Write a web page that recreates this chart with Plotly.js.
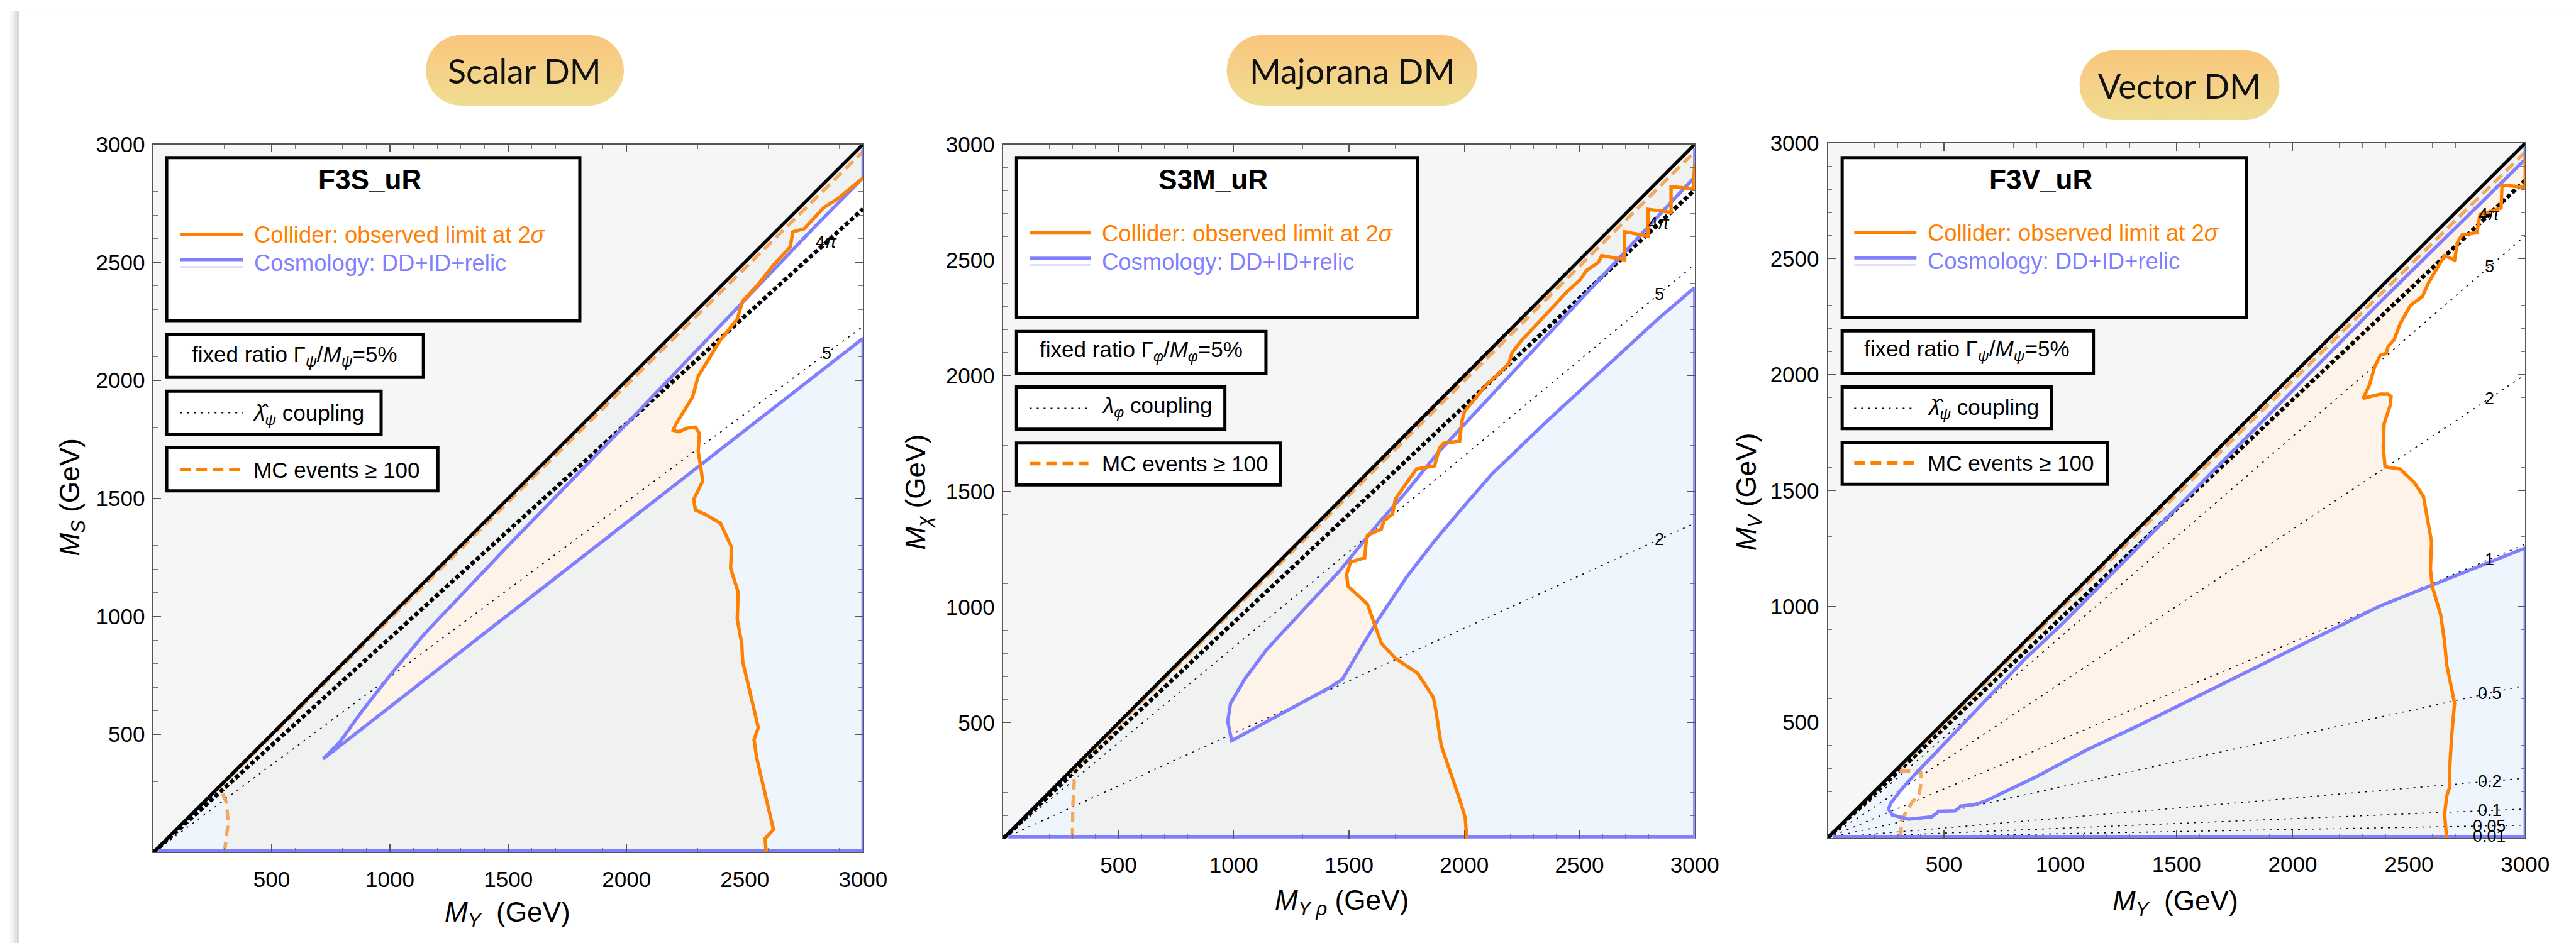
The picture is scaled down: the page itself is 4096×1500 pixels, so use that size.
<!DOCTYPE html>
<html>
<head>
<meta charset="utf-8">
<script src="https://cdn.plot.ly/plotly-3.0.1.min.js"></script>
<style>
  html, body { margin: 0; padding: 0; background: #ffffff; }
  #chart { width: 4096px; height: 1500px; }
</style>
</head>
<body>
<div id="chart"></div>
<script>
// ---------------- shared axis ticks (GeV) ----------------
const tickValues = [500, 1000, 1500, 2000, 2500, 3000];
const tickLabels = ['500', '1000', '1500', '2000', '2500', '3000'];
const massRange = [0, 3000];
const diagonal = [0, 3000];            // M_DM = M_mediator kinematic edge

// ---------------- Scalar DM : F3S_uR ----------------
const scalarColliderX = [2590, 2586, 2621, 2597, 2574, 2550, 2539, 2557, 2515, 2491, 2487, 2468, 2472, 2440, 2444, 2421, 2397, 2331, 2291, 2284, 2322, 2315, 2303, 2308, 2291, 2256, 2220, 2197, 2209, 2279, 2303, 2397, 2468, 2491, 2562, 2621, 2692, 2703, 2751, 2833, 2892, 3000];
const scalarColliderY = [0, 59, 97, 199, 300, 402, 478, 529, 708, 809, 886, 987, 1102, 1204, 1293, 1344, 1395, 1433, 1451, 1496, 1573, 1624, 1700, 1776, 1802, 1797, 1782, 1789, 1815, 1929, 2018, 2171, 2260, 2336, 2413, 2489, 2565, 2629, 2642, 2731, 2769, 2858];
const scalarMcX = [300, 316, 309, 292, 275, 3000];
const scalarMcY = [0, 125, 210, 252, 272, 2970];
const scalarCosmoUpperX = [717, 786, 883, 1000, 1146, 1500, 2000, 2500, 2800, 3000];
const scalarCosmoUpperY = [396, 465, 600, 750, 926, 1300, 1816, 2340, 2655, 2858];
const scalarCosmoLowerX = [717, 3000];
const scalarCosmoLowerY = [396, 2178];
const scalarFourPiEnd = 2726;
const scalarCouplingLabels = ['5'];
const scalarCouplingEnds = [2229];

// ---------------- Majorana DM : S3M_uR ----------------
const majoranaColliderX = [2011, 2004, 1980, 1944, 1900, 1876, 1866, 1798, 1701, 1640, 1604, 1580, 1495, 1490, 1507, 1568, 1575, 1580, 1640, 1653, 1689, 1701, 1737, 1793, 1871, 1893, 1910, 1980, 1989, 2002, 2050, 2094, 2146, 2194, 2207, 2251, 2321, 2364, 2391, 2443, 2504, 2530, 2583, 2596, 2696, 2696, 2797, 2797, 2897, 2897, 2993, 3000];
const majoranaColliderY = [0, 91, 169, 273, 403, 558, 610, 714, 779, 844, 948, 1013, 1091, 1143, 1195, 1213, 1286, 1311, 1337, 1376, 1402, 1467, 1519, 1597, 1610, 1689, 1708, 1717, 1801, 1848, 1904, 1959, 2006, 2053, 2099, 2155, 2229, 2276, 2304, 2360, 2416, 2454, 2491, 2519, 2501, 2622, 2603, 2719, 2706, 2817, 2808, 2919];
const majoranaMcX = [300, 302, 308, 300, 292, 3000];
const majoranaMcY = [0, 143, 247, 275, 288, 2968];
const majoranaCosmoUpperX = [991, 974, 986, 1047, 1144, 1289, 1459, 1628, 1750, 1884, 2113, 2355, 2598, 2840, 3000];
const majoranaCosmoUpperY = [423, 506, 584, 688, 818, 974, 1156, 1363, 1500, 1665, 1910, 2169, 2429, 2688, 2859];
const majoranaCosmoLowerX = [991, 1410, 1471, 1556, 1628, 1750, 1871, 2000, 2120, 2355, 2598, 2840, 3000];
const majoranaCosmoLowerY = [423, 649, 688, 831, 948, 1130, 1286, 1438, 1575, 1800, 2025, 2245, 2381];
const majoranaFourPiEnd = 2803;
const majoranaCouplingLabels = ['5', '2'];
const majoranaCouplingEnds = [2481, 1363];

// ---------------- Vector DM : F3V_uR ----------------
const vectorColliderX = [2662, 2653, 2662, 2675, 2675, 2683, 2696, 2683, 2662, 2653, 2636, 2601, 2592, 2597, 2579, 2562, 2523, 2462, 2397, 2389, 2393, 2419, 2423, 2410, 2376, 2303, 2330, 2352, 2376, 2402, 2410, 2436, 2462, 2506, 2558, 2584, 2601, 2636, 2653, 2696, 2709, 2727, 2792, 2805, 2896, 2900, 3000, 3000];
const vectorColliderY = [0, 102, 180, 219, 298, 435, 582, 651, 749, 847, 965, 1083, 1161, 1279, 1377, 1475, 1534, 1593, 1602, 1691, 1789, 1867, 1906, 1916, 1916, 1898, 1956, 2033, 2083, 2092, 2122, 2151, 2220, 2299, 2338, 2397, 2426, 2485, 2514, 2495, 2573, 2603, 2613, 2691, 2720, 2819, 2809, 2936];
const vectorMcX = [314, 317, 330, 366, 392, 402, 400, 382, 348, 317, 300, 3000];
const vectorMcY = [0, 73, 99, 159, 185, 237, 281, 289, 289, 289, 296, 2962];
const vectorCosmoUpperX = [262, 270, 304, 348, 400, 504, 678, 850, 1016, 2376, 3000];
const vectorCosmoUpperY = [125, 148, 193, 245, 297, 409, 592, 774, 931, 2314, 2930];
const vectorCosmoLowerX = [262, 278, 348, 447, 478, 548, 574, 626, 678, 894, 1110, 1336, 2376, 3000];
const vectorCosmoLowerY = [125, 99, 81, 91, 115, 117, 138, 143, 159, 263, 378, 485, 1002, 1252];
const vectorFourPiEnd = 2839;
const vectorCouplingLabels = ['5', '2', '1', '0.5', '0.2', '0.1', '0.05', '0.01'];
const vectorCouplingEnds = [2600, 2000, 1268, 659, 258, 125, 55, 8];

// ---------------- page geometry (reference pixels, drawn at 0.96) ----------------
const W = 4265, H = 1562, S = 0.96;
const FONT = 'Liberation Sans, Arial, Helvetica, sans-serif';
const ORANGE = '#FF8000', BLUE = '#8080FF', MC_ORANGE = '#F5A85C';
const REGION_COLORS = ['#FFFFFF', '#FDF3E9', '#EEF5FD', '#F0F1F1', '#F6F6F6'];
const LW = 5.6 * S;   // contour line width

const panels = [
  {
    box: {x0: 254, x1: 1429, y0: 239, y1: 1412},
    colX: scalarColliderX, colY: scalarColliderY, mcX: scalarMcX, mcY: scalarMcY,
    upX: scalarCosmoUpperX, upY: scalarCosmoUpperY, loX: scalarCosmoLowerX, loY: scalarCosmoLowerY,
    fourPi: scalarFourPiEnd, cLabels: scalarCouplingLabels, cEnds: scalarCouplingEnds,
    pill: {x0: 705, y0: 58, x1: 1033, y1: 175, tx: 868, ty: 117, text: 'Scalar DM'},
    xTitle: {x: 840, y: 1514, text: '<i>M</i><sub><i>Y</i></sub>  (GeV)'},
    yTitle: {x: 119, y: 824, text: '<i>M</i><sub><i>S</i></sub> (GeV)'},
    legend: {
      box1: [276, 261, 960, 531], title: 'F3S_uR', titleX: 612, titleY: 297,
      sx: [298, 402], orangeY: 388, blueY: [430, 442], textX: 419, colY: 389, cosY: 436,
      box2: [276, 554, 701, 625], ratio: 'fixed ratio Γ<sub><i>ψ</i></sub>/<i>M</i><sub><i>ψ</i></sub>=5%', ratioX: 488, ratioY: 589,
      box3: [276, 648, 631, 719], dotY: 684, coup: '<i>λ̂</i><sub><i>ψ</i></sub> coupling', coupX: 416, coupY: 686,
      box4: [276, 742, 725, 813], dashY: 778, mcX: 418, mcY: 778
    }
  },
  {
    box: {x0: 1661, x1: 2806, y0: 239, y1: 1389},
    colX: majoranaColliderX, colY: majoranaColliderY, mcX: majoranaMcX, mcY: majoranaMcY,
    upX: majoranaCosmoUpperX, upY: majoranaCosmoUpperY, loX: majoranaCosmoLowerX, loY: majoranaCosmoLowerY,
    fourPi: majoranaFourPiEnd, cLabels: majoranaCouplingLabels, cEnds: majoranaCouplingEnds,
    pill: {x0: 2031, y0: 58, x1: 2446, y1: 175, tx: 2239, ty: 117, text: 'Majorana DM'},
    xTitle: {x: 2222, y: 1494, text: '<i>M</i><sub><i>Y ρ</i></sub> (GeV)'},
    yTitle: {x: 1519, y: 815, text: '<i>M</i><sub><i>χ</i></sub> (GeV)'},
    legend: {
      box1: [1683, 261, 2347, 526], title: 'S3M_uR', titleX: 2009, titleY: 297,
      sx: [1705, 1806], orangeY: 386, blueY: [428, 439], textX: 1822, colY: 387, cosY: 434,
      box2: [1683, 549, 2096, 619], ratio: 'fixed ratio Γ<sub><i>φ</i></sub>/<i>M</i><sub><i>φ</i></sub>=5%', ratioX: 1889, ratioY: 581,
      box3: [1683, 641, 2028, 711], dotY: 676, coup: '<i>λ</i><sub><i>φ</i></sub> coupling', coupX: 1822, coupY: 674,
      box4: [1683, 734, 2120, 803], dashY: 768, mcX: 1822, mcY: 768
    }
  },
  {
    box: {x0: 3026, x1: 4181, y0: 237, y1: 1388},
    colX: vectorColliderX, colY: vectorColliderY, mcX: vectorMcX, mcY: vectorMcY,
    upX: vectorCosmoUpperX, upY: vectorCosmoUpperY, loX: vectorCosmoLowerX, loY: vectorCosmoLowerY,
    fourPi: vectorFourPiEnd, cLabels: vectorCouplingLabels, cEnds: vectorCouplingEnds,
    pill: {x0: 3443, y0: 83, x1: 3774, y1: 199, tx: 3608, ty: 142, text: 'Vector DM'},
    xTitle: {x: 3602, y: 1495, text: '<i>M</i><sub><i>Y</i></sub>  (GeV)'},
    yTitle: {x: 2894, y: 815, text: '<i>M</i><sub><i>V</i></sub> (GeV)'},
    legend: {
      box1: [3050, 261, 3719, 526], title: 'F3V_uR', titleX: 3379, titleY: 297,
      sx: [3070, 3173], orangeY: 385, blueY: [427, 439], textX: 3189, colY: 386, cosY: 433,
      box2: [3050, 548, 3466, 618], ratio: 'fixed ratio Γ<sub><i>ψ</i></sub>/<i>M</i><sub><i>ψ</i></sub>=5%', ratioX: 3257, ratioY: 580,
      box3: [3050, 641, 3397, 710], dotY: 676, coup: '<i>λ̂</i><sub><i>ψ</i></sub> coupling', coupX: 3189, coupY: 677,
      box4: [3050, 733, 3489, 802], dashY: 767, mcX: 3189, mcY: 767
    }
  }
];

// ---------------- region shading from the contour boundaries ----------------
function crossings(px, py, y) {
  const xs = [];
  for (let i = 0, j = px.length - 1; i < px.length; j = i++) {
    const yi = py[i], yj = py[j];
    if ((yi > y) !== (yj > y)) xs.push(px[i] + (y - yi) * (px[j] - px[i]) / (yj - yi));
  }
  return xs.sort((a, b) => a - b);
}

function regionGrid(p) {
  const top = massRange[1];
  // collider-excluded region: MC-events edge, kinematic diagonal, observed limit
  const cx = p.mcX.slice(0, -1).concat([top], p.colX.slice().reverse());
  const cy = p.mcY.slice(0, -1).concat([top], p.colY.slice().reverse());
  // cosmology-excluded region: below the diagonal, outside the allowed wedge
  const kx = [0, top].concat(p.upX.slice().reverse(), p.loX.slice(1), [top]);
  const ky = [0, top].concat(p.upY.slice().reverse(), p.loY.slice(1), [0]);
  const N = 750, step = top / N;
  const centers = [];
  for (let i = 0; i < N; i++) centers.push((i + 0.5) * step);
  const z = [];
  for (let j = 0; j < N; j++) {
    const y = centers[j];
    const cc = crossings(cx, cy, y), kc = crossings(kx, ky, y);
    let ci = 0, ki = 0, cin = false, kin = false;
    const row = new Array(N);
    for (let i = 0; i < N; i++) {
      const x = centers[i];
      while (ci < cc.length && cc[ci] < x) { cin = !cin; ci++; }
      while (ki < kc.length && kc[ki] < x) { kin = !kin; ki++; }
      row[i] = (y > x) ? 4 : (cin ? 1 : 0) + (kin ? 2 : 0);
    }
    z.push(row);
  }
  return {centers, z};
}

const regionScale = [];
REGION_COLORS.forEach((c, k) => { regionScale.push([k / 5, c]); regionScale.push([(k + 1) / 5, c]); });

// ---------------- traces ----------------
const traces = [];
const annotations = [];
const shapes = [];
const layout = {
  width: 4096, height: 1500,
  margin: {l: 0, r: 0, t: 0, b: 0, pad: 0},
  paper_bgcolor: '#ffffff', plot_bgcolor: 'rgba(0,0,0,0)',
  showlegend: false,
  font: {family: FONT, color: '#000000'},
  xaxis4: {domain: [0, 1], range: [0, W], visible: false, fixedrange: true, anchor: 'y4'},
  yaxis4: {domain: [0, 1], range: [H, 0], visible: false, fixedrange: true, anchor: 'x4'}
};

function axisBase() {
  return {
    range: massRange.slice(), tickmode: 'array', tickvals: tickValues, ticktext: tickLabels,
    ticks: 'inside', ticklen: 13 * S, tickwidth: 1.3, tickcolor: '#555555',
    minor: {dtick: 100, tick0: 0, ticks: 'inside', ticklen: 7.5 * S, tickwidth: 1, tickcolor: '#777777'},
    showline: true, linecolor: '#555555', linewidth: 1.5, mirror: 'ticks',
    showgrid: false, zeroline: false, fixedrange: true,
    tickfont: {family: FONT, size: 36.5 * S, color: '#000000'}
  };
}

panels.forEach((p, k) => {
  const xa = k === 0 ? 'x' : 'x' + (k + 1);
  const ya = k === 0 ? 'y' : 'y' + (k + 1);
  const xKey = k === 0 ? 'xaxis' : 'xaxis' + (k + 1);
  const yKey = k === 0 ? 'yaxis' : 'yaxis' + (k + 1);
  layout[xKey] = Object.assign(axisBase(), {domain: [p.box.x0 / W, p.box.x1 / W], anchor: ya, ticklabelstandoff: 11});
  layout[yKey] = Object.assign(axisBase(), {domain: [1 - p.box.y1 / H, 1 - p.box.y0 / H], anchor: xa, ticklabelstandoff: 5});

  const g = regionGrid(p);
  traces.push({type: 'heatmap', x: g.centers, y: g.centers, z: g.z, xaxis: xa, yaxis: ya,
    zmin: -0.5, zmax: 4.5, colorscale: regionScale, showscale: false, hoverinfo: 'skip', zsmooth: false});

  // coupling contours
  p.cEnds.forEach((e, i) => {
    traces.push({type: 'scatter', mode: 'lines', x: [0, massRange[1]], y: [0, e], xaxis: xa, yaxis: ya,
      line: {color: '#000000', width: 1.6, dash: '3px,8px'}, hoverinfo: 'skip'});
    annotations.push({xref: xa, yref: ya, x: 2845, y: e * 2845 / massRange[1], text: p.cLabels[i],
      showarrow: false, font: {family: FONT, size: 28 * S, color: '#000000'}, xanchor: 'center', yanchor: 'middle'});
  });
  traces.push({type: 'scatter', mode: 'lines', x: [0, massRange[1]], y: [0, p.fourPi], xaxis: xa, yaxis: ya,
    line: {color: '#000000', width: 6.8 * S, dash: '7px,4px'}, hoverinfo: 'skip'});
  annotations.push({xref: xa, yref: ya, x: 2845, y: p.fourPi * 2845 / massRange[1], text: '4<i>π</i>',
    showarrow: false, font: {family: FONT, size: 28 * S, color: '#000000'}, xanchor: 'center', yanchor: 'middle'});

  // MC statistics edge
  traces.push({type: 'scatter', mode: 'lines', x: p.mcX, y: p.mcY, xaxis: xa, yaxis: ya,
    line: {color: MC_ORANGE, width: LW, dash: '17px,9px'}, hoverinfo: 'skip'});

  // cosmology contour (wedge plus the frame edges it runs along)
  const top = massRange[1];
  const bx = [top].concat(p.upX.slice().reverse(), p.loX.slice(1), [top, 22]);
  const by = [2985].concat(p.upY.slice().reverse(), p.loY.slice(1), [6, 6]);
  traces.push({type: 'scatter', mode: 'lines', x: bx, y: by, xaxis: xa, yaxis: ya,
    line: {color: BLUE, width: LW}, hoverinfo: 'skip'});

  // collider observed limit
  traces.push({type: 'scatter', mode: 'lines', x: p.colX, y: p.colY, xaxis: xa, yaxis: ya,
    line: {color: ORANGE, width: LW}, hoverinfo: 'skip'});

  // kinematic diagonal
  traces.push({type: 'scatter', mode: 'lines', x: diagonal, y: diagonal, xaxis: xa, yaxis: ya,
    line: {color: '#000000', width: 5.6 * S}, hoverinfo: 'skip'});

  // ---- title pill ----
  const pl = p.pill, r = (pl.y1 - pl.y0) / 2;
  const px = [], py = [];
  for (let t = 0; t <= 40; t++) { const a = -Math.PI / 2 + Math.PI * t / 40; px.push(pl.x1 - r + r * Math.cos(a)); py.push(pl.y0 + r + r * Math.sin(a)); }
  for (let t = 0; t <= 40; t++) { const a = Math.PI / 2 + Math.PI * t / 40; px.push(pl.x0 + r + r * Math.cos(a)); py.push(pl.y0 + r + r * Math.sin(a)); }
  traces.push({type: 'scatter', mode: 'lines', x: px, y: py, xaxis: 'x4', yaxis: 'y4', line: {width: 0, color: 'rgba(0,0,0,0)'},
    fill: 'toself', fillcolor: '#F4D286',
    fillgradient: {type: 'vertical', start: pl.y0, stop: pl.y1, colorscale: [[0, '#F9C67C'], [1, '#EFDD92']]},
    hoverinfo: 'skip'});
  annotations.push({xref: 'x4', yref: 'y4', x: pl.tx, y: pl.ty, text: pl.text, showarrow: false,
    font: {family: 'Lato, Open Sans, sans-serif', size: 56 * S, color: '#111111'}, xanchor: 'center', yanchor: 'middle'});

  // ---- axis titles ----
  annotations.push({xref: 'x4', yref: 'y4', x: p.xTitle.x, y: p.xTitle.y, text: p.xTitle.text, showarrow: false,
    font: {family: FONT, size: 46 * S, color: '#000000'}, xanchor: 'center', yanchor: 'middle'});
  annotations.push({xref: 'x4', yref: 'y4', x: p.yTitle.x, y: p.yTitle.y, text: p.yTitle.text, showarrow: false, textangle: -90,
    font: {family: FONT, size: 46 * S, color: '#000000'}, xanchor: 'center', yanchor: 'middle'});

  // ---- legend panels ----
  const L = p.legend;
  const box = (b) => shapes.push({type: 'rect', xref: 'x4', yref: 'y4', x0: b[0], y0: b[1], x1: b[2], y1: b[3],
    line: {color: '#000000', width: 5.2 * S}, fillcolor: '#ffffff', layer: 'above'});
  const seg = (x0, x1, y, color, width, dash) => shapes.push({type: 'line', xref: 'x4', yref: 'y4', x0, x1, y0: y, y1: y,
    line: {color, width, dash: dash || 'solid'}, layer: 'above'});
  const txt = (x, y, text, opts) => annotations.push(Object.assign({xref: 'x4', yref: 'y4', x, y, text, showarrow: false,
    xanchor: 'left', yanchor: 'middle', font: {family: FONT, size: 38 * S, color: '#000000'}}, opts || {}));

  box(L.box1); box(L.box2); box(L.box3); box(L.box4);
  txt(L.titleX, L.titleY, '<b>' + L.title + '</b>', {xanchor: 'center', font: {family: FONT, size: 46 * S, color: '#000000'}});
  seg(L.sx[0], L.sx[1], L.orangeY, ORANGE, LW);
  seg(L.sx[0], L.sx[1], L.blueY[0], BLUE, LW);
  seg(L.sx[0], L.sx[1], L.blueY[1], BLUE, 1.5);
  txt(L.textX, L.colY, 'Collider: observed limit at 2<i>σ</i>', {font: {family: FONT, size: 38 * S, color: ORANGE}});
  txt(L.textX, L.cosY, 'Cosmology: DD+ID+relic', {font: {family: FONT, size: 38 * S, color: BLUE}});
  txt(L.ratioX, L.ratioY, L.ratio, {xanchor: 'center', font: {family: FONT, size: 36.5 * S, color: '#000000'}});
  seg(L.sx[0], L.sx[1], L.dotY, '#000000', 1.5, '3px,8px');
  txt(L.coupX, L.coupY, L.coup, {font: {family: FONT, size: 36.5 * S, color: '#000000'}});
  seg(L.sx[0], L.sx[1] - 4, L.dashY, ORANGE, LW, '17px,9px');
  txt(L.mcX, L.mcY, 'MC events ≥ 100', {font: {family: FONT, size: 36.5 * S, color: '#000000'}});
});

// ---- page edge (slide frame) ----
shapes.push({type: 'rect', xref: 'x4', yref: 'y4', x0: 17, x1: 23, y0: 18, y1: H, fillcolor: '#F3F3F3', line: {width: 0}, layer: 'below'});
shapes.push({type: 'rect', xref: 'x4', yref: 'y4', x0: 23, x1: 28, y0: 18, y1: H, fillcolor: '#E3E3E3', line: {width: 0}, layer: 'below'});
shapes.push({type: 'rect', xref: 'x4', yref: 'y4', x0: 28, x1: 31, y0: 18, y1: H, fillcolor: '#D2D2D2', line: {width: 0}, layer: 'below'});
shapes.push({type: 'line', xref: 'x4', yref: 'y4', x0: 31, x1: W, y0: 18, y1: 18, line: {color: '#EBEBEB', width: 1.2}, layer: 'below'});
shapes.push({type: 'line', xref: 'x4', yref: 'y4', x0: 15, x1: 30, y0: 63, y1: 63, line: {color: '#C8C8C8', width: 1}, layer: 'below'});

layout.annotations = annotations;
layout.shapes = shapes;

Plotly.newPlot('chart', traces, layout, {staticPlot: true, displayModeBar: false});
</script>
</body>
</html>
